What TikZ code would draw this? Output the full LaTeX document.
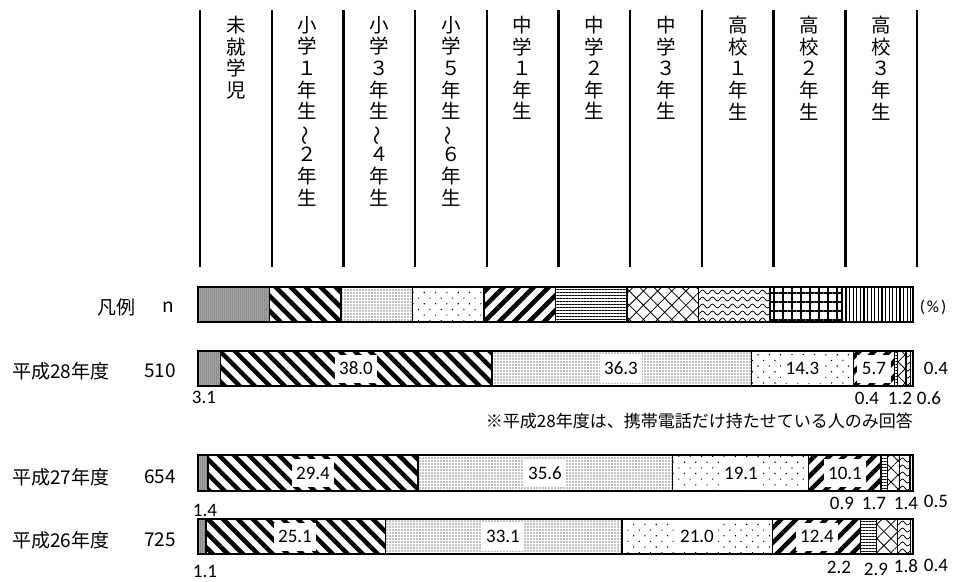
\documentclass[tikz,border=0pt]{standalone}
\usepackage{fontspec}
\setmainfont{Carlito}
\newfontfamily\jp{Noto Sans CJK JP}
\usetikzlibrary{patterns,patterns.meta}
\newcommand\vwave{\rotatebox[origin=c]{90}{〜}}
\tikzdeclarepattern{
  name=wavy,
  type=uncolored,
  bounding box={(0pt,-.6pt) and (10pt,4.6pt)},
  tile size={(10pt,7pt)},
  code={\draw[line width=.8pt] (0pt,2pt) sin (2.5pt,4pt) cos (5pt,2pt) sin (7.5pt,0pt) cos (10pt,2pt);}
}
\tikzset{
  cat0/.style={fill=black!30, postaction={pattern={Dots[distance=2pt,radius=.5pt]}}},
  cat1/.style={fill=white, postaction={pattern={Lines[angle=-45,distance=10.6pt,line width=4.5pt]}}},
  cat2/.style={fill=white, postaction={pattern={Dots[distance=3pt,radius=.65pt]}}},
  cat3/.style={fill=white, postaction={pattern={Dots[angle=45,distance=8pt,radius=.8pt]}}},
  cat4/.style={fill=white, postaction={pattern={Lines[angle=45,distance=10.6pt,line width=4.5pt]}}},
  cat5/.style={fill=white, postaction={pattern={Lines[angle=0,distance=3pt,line width=1pt]}}},
  cat6/.style={fill=white, postaction={pattern={Hatch[angle=45,distance=10pt,line width=.8pt]}}},
  cat7/.style={fill=white, postaction={pattern=wavy}},
  cat8/.style={fill=white, postaction={pattern={Hatch[angle=0,distance=9pt,line width=1.5pt]}}},
  cat9/.style={fill=white, postaction={pattern={Lines[angle=90,distance=3.6pt,line width=1.2pt]}}},
  seg/.style={postaction={draw,line width=1.2pt}},
  head/.style={anchor=north, align=center, inner sep=0pt, font=\jp\fontsize{19.5}{21.6}\selectfont},
  inlbl/.style={fill=white, inner xsep=4.5pt, inner ysep=0pt, minimum height=28pt, font=\fontsize{19}{19}\selectfont},
  outlbl/.style={inner sep=0pt, font=\fontsize{19}{19}\selectfont},
  jplbl/.style={inner sep=0pt, font=\jp\fontsize{19}{19}\selectfont}
}
\begin{document}
\begin{tikzpicture}[x=1pt,y=-1pt]
  \useasboundingbox (0,0) rectangle (957,581);
  % column heads
  \foreach \i in {0,...,10} \draw[line width=2.4pt] (200+71.7*\i,10) -- (200+71.7*\i,267);
  \node[head] (h0) at (235.9,16) {未\\就\\学\\児};
  \node[head] (h1) at (307.6,16) {小\\学\\１\\年\\生\\\vwave\\２\\年\\生};
  \node[head] (h2) at (379.3,16) {小\\学\\３\\年\\生\\\vwave\\４\\年\\生};
  \node[head] (h3) at (450.9,16) {小\\学\\５\\年\\生\\\vwave\\６\\年\\生};
  \node[head] (h4) at (522.7,16) {中\\学\\１\\年\\生};
  \node[head] (h5) at (594.4,16) {中\\学\\２\\年\\生};
  \node[head] (h6) at (666.1,16) {中\\学\\３\\年\\生};
  \node[head] (h7) at (737.8,16) {高\\校\\１\\年\\生};
  \node[head] (h8) at (809.5,16) {高\\校\\２\\年\\生};
  \node[head] (h9) at (881.2,16) {高\\校\\３\\年\\生};

  % legend
  \node[jplbl] (lgd) at (116,307) {凡例};
  \node[jplbl,anchor=east] (n) at (174,307) {n};
  \foreach \i in {0,...,9} \path[cat\i,seg] (198+71.5*\i,287) rectangle (269.5+71.5*\i,322);
  \node[outlbl,font=\fontsize{17}{17}\selectfont] (pct) at (933,307) {(\kern2pt\%\kern2pt)};

  % H28
  \node[jplbl,anchor=west] (y28) at (12,371) {平成28年度};
  \node[jplbl,anchor=east] (n28) at (176,371) {510};
  \path[cat0,seg] (198,351) rectangle (220.2,386);
  \path[cat1,seg] (220.2,351) rectangle (491.9,386);
  \path[cat2,seg] (491.9,351) rectangle (751.4,386);
  \path[cat3,seg] (751.4,351) rectangle (853.7,386);
  \path[cat4,seg] (853.7,351) rectangle (894.4,386);
  \path[cat5,seg] (894.4,351) rectangle (897.3,386);
  \path[cat6,seg] (897.3,351) rectangle (905.9,386);
  \path[cat7,seg] (905.9,351) rectangle (910.1,386);
  \path[cat9,seg] (910.1,351) rectangle (913,386);
  \node[inlbl] (a28) at (356,368.5) {38.0};
  \node[inlbl] (b28) at (621,368.5) {36.3};
  \node[inlbl] (c28) at (802.5,368.5) {14.3};
  \node[inlbl] (d28) at (874,368.5) {5.7};
  \node[outlbl] (e28) at (204,397) {3.1};
  \node[outlbl] (f28) at (867,398) {0.4};
  \node[outlbl] (g28) at (900,398) {1.2};
  \node[outlbl] (h28) at (929,398) {0.6};
  \node[outlbl] (k28) at (936,368) {0.4};
  \node[jplbl,anchor=east,font=\jp\fontsize{17}{17}\selectfont] (note) at (913,421) {※平成28年度は、携帯電話だけ持たせている人のみ回答};

  % H27
  \node[jplbl,anchor=west] (y27) at (12,477) {平成27年度};
  \node[jplbl,anchor=east] (n27) at (176,477) {654};
  \path[cat0,seg] (198,455) rectangle (208,491);
  \path[cat1,seg] (208,455) rectangle (418,491);
  \path[cat2,seg] (418,455) rectangle (672.3,491);
  \path[cat3,seg] (672.3,455) rectangle (808.7,491);
  \path[cat4,seg] (808.7,455) rectangle (880.9,491);
  \path[cat5,seg] (880.9,455) rectangle (887.3,491);
  \path[cat6,seg] (887.3,455) rectangle (899.5,491);
  \path[cat7,seg] (899.5,455) rectangle (909.5,491);
  \path[cat9,seg] (909.5,455) rectangle (913,491);
  \node[inlbl] (a27) at (313,473) {29.4};
  \node[inlbl] (b27) at (545,473) {35.6};
  \node[inlbl] (c27) at (741,473) {19.1};
  \node[inlbl] (d27) at (845,473) {10.1};
  \node[outlbl] (e27) at (205,510) {1.4};
  \node[outlbl] (f27) at (842,503) {0.9};
  \node[outlbl] (g27) at (874,503) {1.7};
  \node[outlbl] (h27) at (906,503) {1.4};
  \node[outlbl] (k27) at (936,501) {0.5};

  % H26
  \node[jplbl,anchor=west] (y26) at (12,540) {平成26年度};
  \node[jplbl,anchor=east] (n26) at (176,540) {725};
  \path[cat0,seg] (198,519) rectangle (205.9,554);
  \path[cat1,seg] (205.9,519) rectangle (385.3,554);
  \path[cat2,seg] (385.3,519) rectangle (622,554);
  \path[cat3,seg] (622,519) rectangle (772.2,554);
  \path[cat4,seg] (772.2,519) rectangle (860.8,554);
  \path[cat5,seg] (860.8,519) rectangle (876.5,554);
  \path[cat6,seg] (876.5,519) rectangle (897.3,554);
  \path[cat7,seg] (897.3,519) rectangle (910.1,554);
  \path[cat9,seg] (910.1,519) rectangle (913,554);
  \node[inlbl] (a26) at (295,536.5) {25.1};
  \node[inlbl] (b26) at (503,536.5) {33.1};
  \node[inlbl] (c26) at (697,536.5) {21.0};
  \node[inlbl] (d26) at (817,536.5) {12.4};
  \node[outlbl] (e26) at (205,571) {1.1};
  \node[outlbl] (f26) at (839,567) {2.2};
  \node[outlbl] (g26) at (876,569) {2.9};
  \node[outlbl] (h26) at (906,566) {1.8};
  \node[outlbl] (k26) at (936,565) {0.4};
\end{tikzpicture}
\end{document}
